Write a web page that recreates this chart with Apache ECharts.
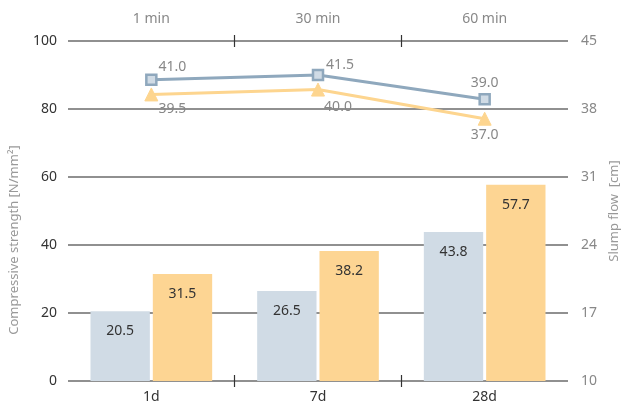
<!DOCTYPE html>
<html>
<head>
<meta charset="utf-8">
<script src="https://cdn.jsdelivr.net/npm/echarts@6/dist/echarts.min.js"></script>
<style>html,body{margin:0;padding:0;background:#fff}#c{width:628px;height:405px}</style>
</head>
<body>
<div id="c"></div>
<script>
const ageCategories = ['1d', '7d', '28d'];
const timeCategories = ['1 min', '30 min', '60 min'];
const strengthA = [20.5, 26.5, 43.8];
const strengthB = [31.5, 38.2, 57.7];
const slumpA = [41.0, 41.5, 39.0];
const slumpB = [39.5, 40.0, 37.0];

const FONT = 'Noto Sans';
const gridColor = '#6b6b6b';
const blueLine = '#8fa8bd';
const yellowLine = '#fdd58f';
const barGray = '#d0dbe5';
const barOrange = '#fdd593';

const offA = [[21, -13], [22, -10], [0, -16]];
const offB = [[21, 15], [20, 17], [0, 16]];

function lineData(vals, offs) {
  return vals.map((v, i) => ({ value: v, label: { offset: offs[i] } }));
}
const fmt1 = (p) => Number(p.value).toFixed(1);

const chart = echarts.init(document.getElementById('c'), null, { renderer: 'canvas' });
chart.setOption({
  animation: false,
  textStyle: { fontFamily: FONT },
  grid: { left: 68, right: 60, top: 41, bottom: 24, containLabel: false, outerBoundsMode: 'none' },
  xAxis: [
    {
      type: 'category', data: ageCategories, position: 'bottom',
      axisLine: { show: false, onZero: false }, axisTick: { show: false },
      axisLabel: { color: '#333', fontSize: 14, margin: 9, fontFamily: FONT }
    },
    {
      type: 'category', data: timeCategories, position: 'top',
      axisLine: { show: false, onZero: false }, axisTick: { show: false },
      axisLabel: { color: '#888', fontSize: 14, margin: 15, fontFamily: FONT }
    },
    {
      type: 'category', data: ['', '', '', ''], boundaryGap: false, position: 'bottom', offset: -6,
      axisLine: { show: false, onZero: false },
      axisTick: { show: true, length: 12, interval: (i) => i === 1 || i === 2, lineStyle: { color: '#333', width: 1.2 } },
      axisLabel: { show: false }
    },
    {
      type: 'category', data: ['', '', '', ''], boundaryGap: false, position: 'top', offset: -6,
      axisLine: { show: false, onZero: false },
      axisTick: { show: true, length: 12, interval: (i) => i === 1 || i === 2, lineStyle: { color: '#333', width: 1.2 } },
      axisLabel: { show: false }
    }
  ],
  yAxis: [
    {
      type: 'value', min: 0, max: 100, interval: 20, position: 'left',
      axisLine: { show: false }, axisTick: { show: false },
      axisLabel: { color: '#333', fontSize: 14, margin: 11, fontFamily: FONT },
      splitLine: { show: true, lineStyle: { color: gridColor, width: 1.5 } },
      name: 'Compressive strength [N/mm²]', nameLocation: 'middle', nameGap: 47, nameRotate: 90,
      nameTextStyle: { color: '#999', fontSize: 13, fontFamily: FONT, padding: [0, 58, 0, 0] }
    },
    {
      type: 'value', min: 10, max: 45, interval: 7, position: 'right',
      axisLine: { show: false }, axisTick: { show: false },
      axisLabel: { color: '#888', fontSize: 14, margin: 13, fontFamily: FONT },
      splitLine: { show: false },
      name: 'Slump flow  [cm]', nameLocation: 'middle', nameGap: 39, nameRotate: 90,
      nameTextStyle: { color: '#999', fontSize: 13, fontFamily: FONT }
    }
  ],
  series: [
    {
      type: 'bar', data: strengthA, xAxisIndex: 0, yAxisIndex: 0,
      barGap: '5%', barCategoryGap: '27%',
      itemStyle: { color: barGray },
      label: { show: true, position: 'insideTop', distance: 13, color: '#333', fontSize: 14, fontFamily: FONT, formatter: fmt1 }
    },
    {
      type: 'bar', data: strengthB, xAxisIndex: 0, yAxisIndex: 0,
      barGap: '5%', barCategoryGap: '27%',
      itemStyle: { color: barOrange },
      label: { show: true, position: 'insideTop', distance: 13, color: '#333', fontSize: 14, fontFamily: FONT, formatter: fmt1 }
    },
    {
      type: 'line', data: lineData(slumpA, offA), xAxisIndex: 1, yAxisIndex: 1,
      symbol: 'rect', symbolSize: 10, z: 5,
      lineStyle: { color: blueLine, width: 3 },
      itemStyle: { color: barGray, borderColor: blueLine, borderWidth: 2.5 },
      label: { show: true, position: 'inside', color: '#888', fontSize: 14, fontFamily: FONT, formatter: fmt1 }
    },
    {
      type: 'line', data: lineData(slumpB, offB), xAxisIndex: 1, yAxisIndex: 1,
      symbol: 'triangle', symbolSize: 13, z: 4,
      lineStyle: { color: yellowLine, width: 3 },
      itemStyle: { color: yellowLine, borderColor: yellowLine, borderWidth: 1 },
      label: { show: true, position: 'inside', color: '#888', fontSize: 14, fontFamily: FONT, formatter: fmt1 }
    }
  ]
});
</script>
</body>
</html>
